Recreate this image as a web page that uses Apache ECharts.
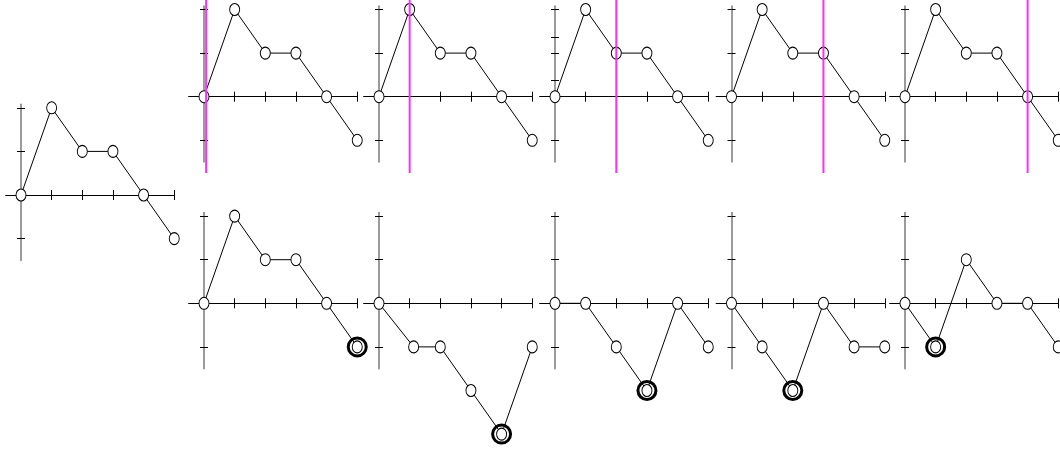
<!DOCTYPE html>
<html><head><meta charset="utf-8">
<script src="https://cdn.jsdelivr.net/npm/echarts@6/dist/echarts.min.js"></script>
<style>html,body{margin:0;padding:0;background:#fff;overflow:hidden}#c{width:1060px;height:453px}</style>
</head><body><div id="c"></div><script>
// ---- data ----
const xTicks = [0, 1, 2, 3, 4, 5];
const yTicks = [-1, 0, 1, 2];
const yTicksExtra = [-1, 0, 0.38, 1, 1.37, 2];
const baseX = [0, 1, 2, 3, 4, 5];
const baseY = [0, 2, 1, 1, 0, -1];
const cursorX = [0.07, 1, 2, 3, 4];
const bottomX1 = [0, 1, 2, 3, 4, 5];
const bottomY1 = [0, 2, 1, 1, 0, -1];
const bottomX2 = [0, 1.13, 2, 3, 4, 5];
const bottomY2 = [0, -1, -1, -2, -3, -1];
const bottomX3 = [0, 1, 2, 3, 4, 5];
const bottomY3 = [0, 0, -1, -2, 0, -1];
const bottomX4 = [0, 1, 2, 3, 4, 5];
const bottomY4 = [0, -1, -2, 0, -1, -1];
const bottomX5 = [0, 1, 2, 3, 4, 5];
const bottomY5 = [0, -1, 1, 0, 0, -1];
const highlightIdx = [5, 4, 3, 2, 1];

// ---- layout ----
const UX = 30.65, UY = 43.6;
const X_MIN = -0.5, X_MAX = 5, Y_MIN = -1.5, Y_MAX = 2.08;
const colX = [204, 379, 555, 731.5, 905];
const topOY = 96.7, botOY = 303.3;

const charts = [];
charts.push({ ox: 21, oy: 195, xs: baseX, ys: baseY, yt: yTicks });
for (let i = 0; i < 5; i++) {
  charts.push({ ox: colX[i], oy: topOY, xs: baseX, ys: baseY, yt: i === 2 ? yTicksExtra : yTicks, cursor: cursorX[i] });
}
const bx = [bottomX1, bottomX2, bottomX3, bottomX4, bottomX5];
const by = [bottomY1, bottomY2, bottomY3, bottomY4, bottomY5];
for (let i = 0; i < 5; i++) {
  charts.push({ ox: colX[i], oy: botOY, xs: bx[i], ys: by[i], yt: yTicks, hi: highlightIdx[i] });
}

const grid = [], xAxis = [], yAxis = [], series = [];
charts.forEach((c, i) => {
  grid.push({
    left: c.ox + X_MIN * UX, top: c.oy - Y_MAX * UY,
    width: (X_MAX - X_MIN) * UX, height: (Y_MAX - Y_MIN) * UY,
    containLabel: false
  });
  [false, true].forEach(inside => {
    xAxis.push({
      type: 'value', gridIndex: i, min: X_MIN, max: X_MAX, position: 'bottom',
      axisLine: { show: !inside, onZero: true, lineStyle: { color: '#000', width: 1.2 } },
      axisTick: { show: true, inside: inside, length: 5, customValues: xTicks, lineStyle: { color: '#000', width: 1 } },
      axisLabel: { show: false }, splitLine: { show: false }
    });
    yAxis.push({
      type: 'value', gridIndex: i, min: Y_MIN, max: Y_MAX, position: 'left',
      axisLine: { show: !inside, onZero: true, lineStyle: { color: '#7a7a7a', width: 1.5 } },
      axisTick: { show: true, inside: inside, length: 4, customValues: c.yt, lineStyle: { color: '#000', width: 1 } },
      axisLabel: { show: false }, splitLine: { show: false }
    });
  });
  const ax = 2 * i;
  series.push({
    type: 'line', xAxisIndex: ax, yAxisIndex: ax, clip: false, silent: true,
    data: c.xs.map((x, k) => [x, c.ys[k]]),
    symbol: 'circle', symbolSize: [10, 12], showAllSymbol: true,
    itemStyle: { color: '#fff', borderColor: '#000', borderWidth: 1 },
    lineStyle: { color: '#000', width: 1 }, z: 3
  });
  if (c.cursor !== undefined) {
    series.push({
      type: 'line', xAxisIndex: ax, yAxisIndex: ax, clip: false, silent: true,
      data: [[c.cursor, 2.25], [c.cursor, -1.75]], symbol: 'none',
      lineStyle: { color: '#ff2cff', width: 2 }, z: 4
    });
  }
  if (c.hi !== undefined) {
    series.push({
      type: 'scatter', xAxisIndex: ax, yAxisIndex: ax, clip: false, silent: true,
      data: [[c.xs[c.hi], c.ys[c.hi]]], symbol: 'circle', symbolSize: 18,
      itemStyle: { color: 'rgba(0,0,0,0)', borderColor: '#000', borderWidth: 3, opacity: 1 }, z: 5
    });
  }
});

const chart = echarts.init(document.getElementById('c'), null, { renderer: 'canvas' });
chart.setOption({ animation: false, backgroundColor: '#fff', grid, xAxis, yAxis, series });
</script></body></html>
